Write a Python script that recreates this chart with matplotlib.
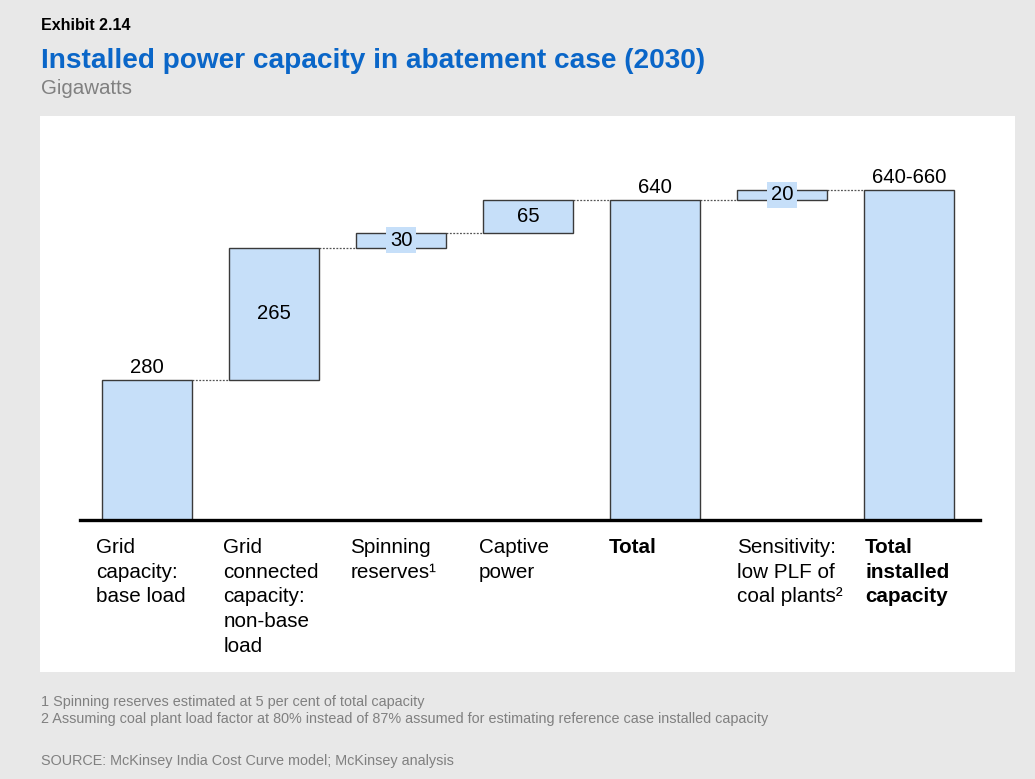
import matplotlib
matplotlib.use("Agg")
import matplotlib.pyplot as plt
from matplotlib.patches import Rectangle

# ---- data ----
categories = ["Grid\ncapacity:\nbase load",
              "Grid\nconnected\ncapacity:\nnon-base\nload",
              "Spinning\nreserves\u00b9",
              "Captive\npower",
              "Total",
              "Sensitivity:\nlow PLF of\ncoal plants\u00b2",
              "Total\ninstalled\ncapacity"]
bold_cats = [False, False, False, False, True, False, True]
bottoms = [0, 280, 545, 575, 0, 640, 0]
heights = [280, 265, 30, 65, 640, 20, 660]
value_labels = ["280", "265", "30", "65", "640", "20", "640-660"]
label_pos = ["above", "inside", "inside_box", "inside", "above", "inside_box", "above"]

footnotes = ["1 Spinning reserves estimated at 5 per cent of total capacity",
             "2 Assuming coal plant load factor at 80% instead of 87% assumed for estimating reference case installed capacity"]
source = "SOURCE: McKinsey India Cost Curve model; McKinsey analysis"

plt.rcParams['font.family'] = ['Liberation Sans', 'DejaVu Sans']

W, H = 1035, 779
fig = plt.figure(figsize=(W/100, H/100), dpi=100)
fig.patch.set_facecolor('#e8e8e8')

# white panel
fig.patches.append(Rectangle((40/W, 1-672/H), (1015-40)/W, (672-116)/H,
                             transform=fig.transFigure, facecolor='white',
                             edgecolor='none', zorder=-5))

ax = fig.add_axes([80/W, 1-520/H, 900/W, 370/H])
ax.set_zorder(2)
ax.set_facecolor('none')
ax.set_xlim(-0.528, 6.559)
ax.set_ylim(0, 740)
for s in ax.spines.values():
    s.set_visible(False)
ax.set_xticks([]); ax.set_yticks([])
ax.axhline(0, color='black', lw=2.4, zorder=5, clip_on=False)

bar_color = '#c6dff9'
width = 0.71
xs = list(range(len(categories)))
ax.bar(xs, heights, bottom=bottoms, width=width, color=bar_color,
       edgecolor='#3a3a3a', linewidth=1.0, zorder=3)

# connectors
for i in range(len(xs) - 1):
    level = bottoms[i] + heights[i]
    ax.plot([xs[i] + width/2, xs[i+1] - width/2], [level, level],
            ls=(0, (1.5, 1.2)), color='#555555', lw=0.9, zorder=2)

fs = 14.6
for i, (lab, pos) in enumerate(zip(value_labels, label_pos)):
    top = bottoms[i] + heights[i]
    if pos == "above":
        ax.text(xs[i], top + 6, lab, ha='center', va='bottom', fontsize=fs, zorder=6)
    elif pos == "inside":
        ax.text(xs[i], bottoms[i] + heights[i]/2, lab, ha='center', va='center',
                fontsize=fs, zorder=6)
    else:
        ax.text(xs[i], bottoms[i] + heights[i]/2, lab, ha='center', va='center',
                fontsize=fs, zorder=6,
                bbox=dict(facecolor=bar_color, edgecolor='none', pad=2.5))

# label x offsets from bar left edge (layout only)
label_shift = [-0.045, -0.045, -0.045, -0.035, -0.01, 0.0, 0.01]
for i, (cat, b) in enumerate(zip(categories, bold_cats)):
    ax.text(xs[i] - width/2 + label_shift[i], -36, cat, ha='left', va='top',
            fontsize=14.9, fontweight='bold' if b else 'normal',
            linespacing=1.38, zorder=6)

# titles
fig.text(41/W, 1-25/H, "Exhibit 2.14", fontsize=11.5, fontweight='bold',
         color='black', va='center', ha='left')
fig.text(41/W, 1-61/H, "Installed power capacity in abatement case (2030)",
         fontsize=20.2, fontweight='bold', color='#0a66c8', va='center', ha='left')
fig.text(41/W, 1-88/H, "Gigawatts", fontsize=14.8, color='#808080',
         va='center', ha='left')

fig.text(41/W, 1-702/H, footnotes[0], fontsize=10.4, color='#808080',
         va='center', ha='left')
fig.text(41/W, 1-719/H, footnotes[1], fontsize=10.4, color='#808080',
         va='center', ha='left')
fig.text(41/W, 1-761/H, source, fontsize=10.4, color='#808080',
         va='center', ha='left')

fig.savefig("out.png", dpi=100, facecolor=fig.get_facecolor())
